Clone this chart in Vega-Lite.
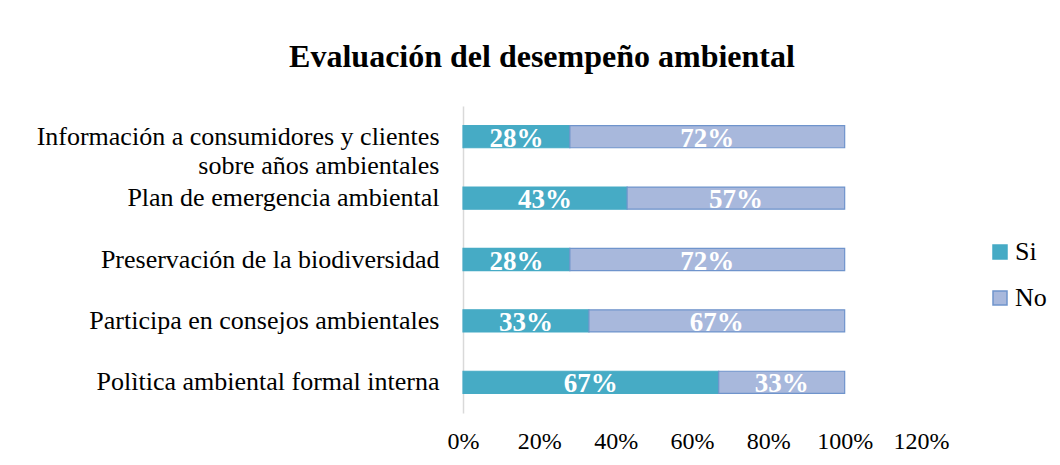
{
  "$schema": "https://vega.github.io/schema/vega-lite/v6.json",
  "autosize": "none",
  "width": 458,
  "height": 307,
  "padding": {"left": 463, "top": 106, "right": 139, "bottom": 52},
  "background": "white",
  "config": {
    "view": {"stroke": null},
    "font": "Liberation Serif"
  },
  "title": {
    "text": "Evaluación del desempeño ambiental",
    "font": "Liberation Serif",
    "fontSize": 32,
    "fontWeight": "bold",
    "color": "#000000",
    "anchor": "middle",
    "frame": "group",
    "dx": -150,
    "offset": 32
  },
  "data": {
    "values": [
      {"item": "Información a consumidores y clientes|sobre años ambientales", "respuesta": "Si", "valor": 0.28},
      {"item": "Información a consumidores y clientes|sobre años ambientales", "respuesta": "No", "valor": 0.72},
      {"item": "Plan de emergencia ambiental", "respuesta": "Si", "valor": 0.43},
      {"item": "Plan de emergencia ambiental", "respuesta": "No", "valor": 0.57},
      {"item": "Preservación de la biodiversidad", "respuesta": "Si", "valor": 0.28},
      {"item": "Preservación de la biodiversidad", "respuesta": "No", "valor": 0.72},
      {"item": "Participa en consejos ambientales", "respuesta": "Si", "valor": 0.33},
      {"item": "Participa en consejos ambientales", "respuesta": "No", "valor": 0.67},
      {"item": "Polìtica ambiental formal interna", "respuesta": "Si", "valor": 0.67},
      {"item": "Polìtica ambiental formal interna", "respuesta": "No", "valor": 0.33}
    ]
  },
  "transform": [
    {"stack": "valor", "groupby": ["item"], "as": ["v0", "v1"], "sort": [{"field": "respuesta", "order": "descending"}]},
    {"calculate": "(datum.v0 + datum.v1) / 2", "as": "mid"}
  ],
  "encoding": {
    "y": {
      "field": "item",
      "type": "nominal",
      "sort": null,
      "scale": {"paddingInner": 0.64, "paddingOuter": 0.32},
      "axis": {
        "title": null,
        "labelExpr": "split(datum.label, '|')",
        "labelFont": "Liberation Serif",
        "labelFontSize": 26,
        "labelColor": "#000000",
        "labelPadding": 24,
        "labelLineHeight": 29,
        "labelLimit": 0,
        "ticks": false,
        "domainColor": "#D9D9D9",
        "domainWidth": 1.5
      }
    }
  },
  "layer": [
    {
      "mark": {"type": "bar", "strokeWidth": 1.2},
      "encoding": {
        "x": {
          "field": "v0",
          "type": "quantitative",
          "scale": {"domain": [0, 1.2], "nice": false},
          "axis": {
            "title": null,
            "format": "%",
            "values": [0, 0.2, 0.4, 0.6, 0.8, 1.0, 1.2],
            "grid": false,
            "domain": false,
            "ticks": false,
            "labelFont": "Liberation Serif",
            "labelFontSize": 24,
            "labelColor": "#000000",
            "labelPadding": 16,
            "labelFlush": false
          }
        },
        "x2": {"field": "v1"},
        "color": {
          "field": "respuesta",
          "type": "nominal",
          "scale": {"domain": ["Si", "No"], "range": ["#46ABC5", "#A8B8DC"]},
          "legend": {
            "title": null,
            "orient": "none",
            "legendX": 524,
            "legendY": 133,
            "symbolType": "square",
            "symbolSize": 196,
            "labelFont": "Liberation Serif",
            "labelFontSize": 26,
            "labelColor": "#000000",
            "rowPadding": 20,
            "labelOffset": 2
          }
        },
        "stroke": {
          "field": "respuesta",
          "type": "nominal",
          "scale": {"domain": ["Si", "No"], "range": ["#46ABC5", "#6F94CC"]},
          "legend": null
        }
      }
    },
    {
      "mark": {"type": "text", "font": "Liberation Serif", "fontSize": 27, "fontWeight": "bold", "color": "white", "baseline": "alphabetic", "dy": 10},
      "encoding": {
        "x": {"field": "mid", "type": "quantitative"},
        "text": {"field": "valor", "type": "quantitative", "format": ".0%"}
      }
    }
  ]
}
